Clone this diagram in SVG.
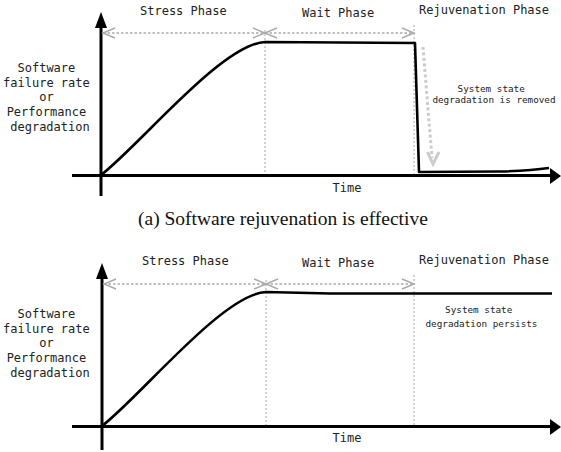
<svg xmlns="http://www.w3.org/2000/svg" width="561" height="452" viewBox="0 0 561 452">
<style>
.lbl{font-family:"DejaVu Sans Mono","Liberation Mono",monospace;font-size:12px;fill:#222}
.sm{font-family:"DejaVu Sans Mono","Liberation Mono",monospace;font-size:9.3px;fill:#222}
.cap{font-family:"Liberation Serif","Times New Roman",serif;font-size:19.5px;fill:#111}
.axis{stroke:#000;stroke-width:3;fill:none}
.curve{stroke:#000;stroke-width:2.6;fill:none;stroke-linejoin:round}
.dim{stroke:#aaa;stroke-width:1.3;fill:none;stroke-dasharray:2.5 2}
.wing{stroke:#aaa;stroke-width:1.4;fill:none}
.vdot{stroke:#bbb;stroke-width:1.3;fill:none;stroke-dasharray:2 2}
.head{fill:#000}
</style>
<rect width="561" height="452" fill="#fff"/>

<g id="panel-a">
  <g id="a-axes">
    <line class="axis" x1="101" y1="26" x2="101" y2="196"/>
    <polygon class="head" points="101,12 95,28 107,28"/>
    <line class="axis" x1="72" y1="175.5" x2="552" y2="175.5"/>
    <polygon class="head" points="561,176 550,168 550,184"/>
  </g>
  <g id="a-guides">
    <line class="vdot" x1="265" y1="30" x2="265" y2="174"/>
    <line class="vdot" x1="414" y1="25" x2="414" y2="174"/>
    <line class="dim" x1="103" y1="33" x2="414" y2="33"/>
    <path class="wing" d="M115,28 L103,33 L115,38"/>
    <path class="wing" d="M253,28 L277,38 M253,38 L277,28"/>
    <path class="wing" d="M402,28 L414,33 L402,38"/>
  </g>
  <g id="a-curve">
    <path class="curve" d="M101,175 C140,145 222,44 265,42 L415,43 L419,172 L500,171.5 C520,171 535,170 549,168"/>
  </g>
  <g id="a-removed-arrow">
    <line x1="423" y1="47" x2="432" y2="158" stroke="#ccc" stroke-width="3" stroke-dasharray="3 2.5"/>
    <path d="M427.5,152 L433,164 L439,152" stroke="#ccc" stroke-width="3" fill="none" stroke-linejoin="miter"/>
  </g>
  <g id="a-texts">
    <text class="lbl" x="140" y="15">Stress Phase</text>
    <text class="lbl" x="302" y="16.5">Wait Phase</text>
    <text class="lbl" x="419" y="13.5">Rejuvenation Phase</text>
    <text class="lbl" text-anchor="middle">
      <tspan x="50" y="72">Software</tspan>
      <tspan x="50" y="86.5">failure rate</tspan>
      <tspan x="50" y="101">or</tspan>
      <tspan x="50" y="116">Performance</tspan>
      <tspan x="50" y="130.5">degradation</tspan>
    </text>
    <text class="lbl" x="347" y="192" text-anchor="middle">Time</text>
    <text class="sm" text-anchor="middle">
      <tspan x="494" y="92">System state</tspan>
      <tspan x="494" y="103">degradation is removed</tspan>
    </text>
    <text class="cap" x="138" y="225">(a) Software rejuvenation is effective</text>
  </g>
</g>

<g id="panel-b">
  <g id="b-axes">
    <line class="axis" x1="102" y1="277" x2="102" y2="450"/>
    <polygon class="head" points="102,263 96,279 108,279"/>
    <line class="axis" x1="72" y1="426.5" x2="552" y2="426.5"/>
    <polygon class="head" points="561,427 550,419 550,435"/>
  </g>
  <g id="b-guides">
    <line class="vdot" x1="266" y1="280" x2="266" y2="425"/>
    <line class="vdot" x1="414" y1="275" x2="414" y2="425"/>
    <line class="dim" x1="104" y1="284" x2="414" y2="284"/>
    <path class="wing" d="M116,279 L104,284 L116,289"/>
    <path class="wing" d="M254,279 L278,289 M254,289 L278,279"/>
    <path class="wing" d="M402,279 L414,284 L402,289"/>
  </g>
  <g id="b-curve">
    <path class="curve" d="M102,426 C141,396 223,294 266,292 L330,293.5 L552,293.5"/>
  </g>
  <g id="b-texts">
    <text class="lbl" x="142" y="265">Stress Phase</text>
    <text class="lbl" x="302" y="266.5">Wait Phase</text>
    <text class="lbl" x="419" y="264">Rejuvenation Phase</text>
    <text class="lbl" text-anchor="middle">
      <tspan x="50" y="318">Software</tspan>
      <tspan x="50" y="332.5">failure rate</tspan>
      <tspan x="50" y="347">or</tspan>
      <tspan x="50" y="362">Performance</tspan>
      <tspan x="50" y="376.5">degradation</tspan>
    </text>
    <text class="lbl" x="347" y="442" text-anchor="middle">Time</text>
    <text class="sm" text-anchor="middle">
      <tspan x="481.5" y="313">System state</tspan>
      <tspan x="481.5" y="327">degradation persists</tspan>
    </text>
  </g>
</g>
</svg>
